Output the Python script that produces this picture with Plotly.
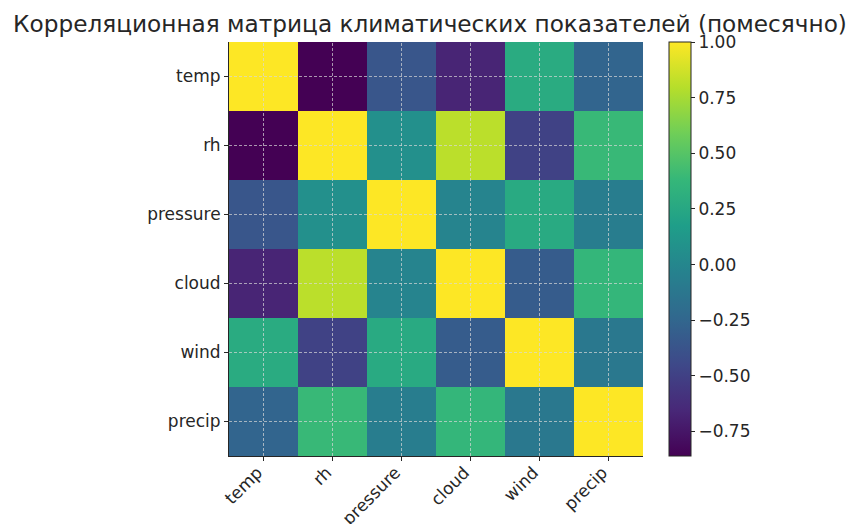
import plotly.graph_objects as go

variables = ["temp", "rh", "pressure", "cloud", "wind", "precip"]

corr_temp = [1.00, -0.86, -0.36, -0.67, 0.28, -0.26]
corr_rh = [-0.86, 1.00, 0.07, 0.81, -0.49, 0.39]
corr_pressure = [-0.36, 0.07, 1.00, -0.02, 0.27, -0.07]
corr_cloud = [-0.67, 0.81, -0.02, 1.00, -0.32, 0.37]
corr_wind = [0.28, -0.49, 0.27, -0.32, 1.00, -0.11]
corr_precip = [-0.26, 0.39, -0.07, 0.37, -0.11, 1.00]

z = [corr_temp, corr_rh, corr_pressure, corr_cloud, corr_wind, corr_precip]

colorbar_ticks = [-0.75, -0.5, -0.25, 0.0, 0.25, 0.5, 0.75, 1.0]
colorbar_ticktext = ["\u22120.75", "\u22120.50", "\u22120.25", "0.00", "0.25", "0.50", "0.75", "1.00"]

font_family = "DejaVu Sans, sans-serif"
text_color = "#262626"
tick_size = 17

fig = go.Figure(
    go.Heatmap(
        z=z,
        x=variables,
        y=variables,
        colorscale="Viridis",
        zmin=min(min(r) for r in z),
        zmax=1.0,
        colorbar=dict(
            x=1.063,
            xanchor="left",
            xref="paper",
            xpad=0,
            ypad=0,
            y=0.5,
            yanchor="middle",
            len=1.0,
            lenmode="fraction",
            thickness=22,
            thicknessmode="pixels",
            outlinecolor=text_color,
            outlinewidth=1,
            tickvals=colorbar_ticks,
            ticktext=colorbar_ticktext,
            ticks="outside",
            ticklen=4,
            tickcolor=text_color,
            tickfont=dict(family=font_family, size=tick_size, color=text_color),
        ),
    )
)

# dashed grid lines at category centres, drawn above the cells
for v in variables:
    fig.add_shape(type="line", xref="x", yref="paper", x0=v, x1=v, y0=0, y1=1,
                  line=dict(color="rgba(215,215,215,0.7)", width=1, dash="3px,2px"),
                  layer="above")
    fig.add_shape(type="line", xref="paper", yref="y", x0=0, x1=1, y0=v, y1=v,
                  line=dict(color="rgba(215,215,215,0.7)", width=1, dash="3px,2px"),
                  layer="above")

fig.update_layout(
    width=853,
    height=516,
    margin=dict(l=221, r=218, t=34, b=68, autoexpand=False),
    paper_bgcolor="white",
    plot_bgcolor="white",
    font=dict(family=font_family, size=tick_size, color=text_color),
    title=dict(
        text="Корреляционная матрица климатических показателей (помесячно)",
        x=0.4947,
        xref="container",
        xanchor="center",
        y=0.985,
        yref="container",
        yanchor="top",
        font=dict(family=font_family, size=23.2, color=text_color),
    ),
    xaxis=dict(
        type="category",
        categoryorder="array",
        categoryarray=variables,
        tickangle=-45,
        ticks="outside",
        ticklen=4,
        tickcolor=text_color,
        ticklabelshift=-6,
        ticklabelstandoff=-5,
        showgrid=False,
        showline=True,
        linecolor=text_color,
        linewidth=1,
        zeroline=False,
        automargin=False,
        tickfont=dict(family=font_family, size=tick_size, color=text_color),
    ),
    yaxis=dict(
        type="category",
        categoryorder="array",
        categoryarray=variables,
        autorange="reversed",
        ticks="outside",
        ticklen=4,
        tickcolor=text_color,
        showgrid=False,
        showline=True,
        linecolor=text_color,
        linewidth=1,
        zeroline=False,
        automargin=False,
        tickfont=dict(family=font_family, size=tick_size, color=text_color),
    ),
)

fig.write_html("out.html")
